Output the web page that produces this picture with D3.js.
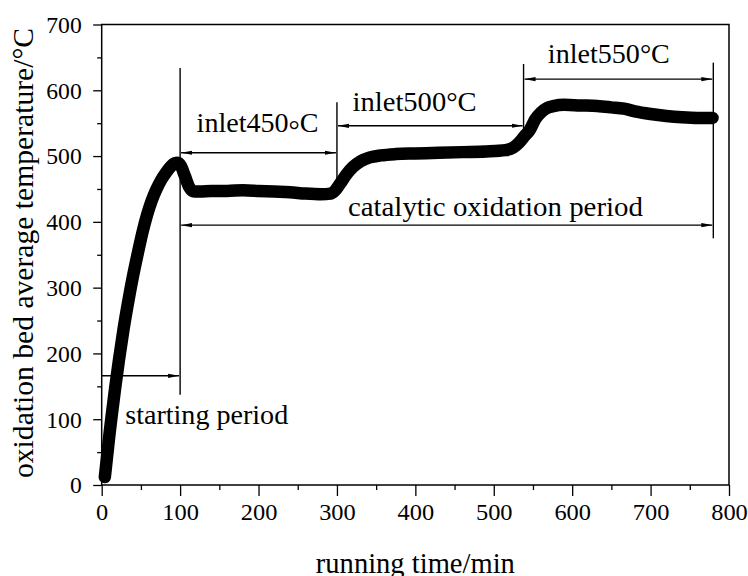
<!DOCTYPE html>
<html>
<head>
<meta charset="utf-8">
<script src="https://cdn.jsdelivr.net/npm/d3@7"></script>
<style>
  html, body { margin: 0; padding: 0; background: #fff; }
  svg { display: block; }
</style>
</head>
<body>
<svg id="chart" width="748" height="576"></svg>
<script>
// Running time (min) and oxidation bed average temperature (°C)
const timeMin = [4, 7, 10, 13, 17, 22, 28, 34, 40, 46, 52, 58, 64, 70, 76, 82, 88, 93, 97,
  101, 106, 112, 118, 125, 140, 160, 180, 200, 220, 240, 260, 280, 292, 298, 304, 312, 320,
  330, 342, 356, 375, 400, 430, 460, 490, 515, 525, 532, 539, 546, 553, 560, 568, 576, 590,
  610, 632, 650, 666, 680, 700, 720, 740, 760, 779];
const bedTemp = [12, 45, 78, 108, 146, 190, 238, 280, 318, 352, 384, 411, 433, 450, 464, 475,
  484, 489, 490, 485, 470, 452, 446, 446, 447, 447, 448, 447, 446, 445, 443, 442, 443, 448,
  458, 472, 483, 492, 498, 501, 503, 504, 505, 506, 507, 509, 513, 520, 530, 540, 556, 566,
  573, 576, 578, 577, 576, 574, 572, 568, 564, 561, 559, 558, 558];

// Axis ticks
const xTicks = [0, 100, 200, 300, 400, 500, 600, 700, 800];
const xMinorTicks = [50, 150, 250, 350, 450, 550, 650, 750];
const yTicks = [0, 100, 200, 300, 400, 500, 600, 700];
const yMinorTicks = [50, 150, 250, 350, 450, 550, 650];

// Period markers: vertical boundaries and spans (time in min, temp in °C)
const boundaryLines = [
  { t: 100, from: 137, to: 634 },
  { t: 300, from: 448, to: 582 },
  { t: 538, from: 520, to: 640 },
  { t: 780, from: 375, to: 642 }
];
const spanArrows = [
  { t0: 0, t1: 100, v: 166, startHead: false },
  { t0: 100, t1: 300, v: 505, startHead: true },
  { t0: 300, t1: 538, v: 546, startHead: true },
  { t0: 538, t1: 780, v: 617, startHead: true },
  { t0: 100, t1: 780, v: 395, startHead: true }
];
const periodLabels = [
  { text: "inlet450", unit: "ring", t: 121, v: 536, len: 122 },
  { text: "inlet500", unit: "deg", t: 320, v: 568, len: 124 },
  { text: "inlet550", unit: "deg", t: 569, v: 642, len: 122 },
  { text: "catalytic oxidation period", unit: null, t: 314, v: 409, len: 295 },
  { text: "starting period", unit: null, t: 30, v: 93, len: 163 }
];

const FONT = "'Liberation Serif', 'Times New Roman', serif";
const svg = d3.select("#chart");
const x = d3.scaleLinear().domain([0, 800]).range([101.7, 729]);
const y = d3.scaleLinear().domain([0, 700]).range([485, 24.5]);

// Arrowhead marker
const defs = svg.append("defs");
defs.append("marker")
  .attr("id", "head")
  .attr("markerUnits", "userSpaceOnUse")
  .attr("markerWidth", 11).attr("markerHeight", 7)
  .attr("refX", 11).attr("refY", 3.5)
  .attr("orient", "auto-start-reverse")
  .append("path")
  .attr("d", "M0,1.4 L11,3.5 L0,5.6 Z")
  .attr("fill", "#000");

// Bottom axis
const gx = svg.append("g").attr("transform", `translate(0,${y(0)})`)
  .call(d3.axisBottom(x).tickValues(xTicks).tickSize(11).tickPadding(0).tickFormat(d3.format("d")));
gx.attr("font-family", FONT);
gx.select(".domain").remove();
gx.selectAll(".tick line").attr("stroke", "#000").attr("stroke-width", 1.3);
gx.selectAll(".tick text")
  .attr("y", 35).attr("dy", 0)
  .attr("fill", "#000")
  .style("font-family", FONT)
  .style("font-size", "24px")
  .attr("textLength", d => String(d).length * 12.2)
  .attr("lengthAdjust", "spacingAndGlyphs");
svg.append("g").attr("transform", `translate(0,${y(0)})`)
  .call(d3.axisBottom(x).tickValues(xMinorTicks).tickSize(5).tickFormat(""))
  .call(g => g.select(".domain").remove())
  .selectAll(".tick line").attr("stroke", "#000").attr("stroke-width", 1.3);

// Left axis
const gy = svg.append("g").attr("transform", `translate(${x(0)},0)`)
  .call(d3.axisLeft(y).tickValues(yTicks).tickSize(8.5).tickPadding(11.5).tickFormat(d3.format("d")));
gy.attr("font-family", FONT);
gy.select(".domain").remove();
gy.selectAll(".tick line").attr("stroke", "#000").attr("stroke-width", 1.3);
gy.selectAll(".tick text")
  .attr("fill", "#000")
  .style("font-family", FONT)
  .style("font-size", "24px")
  .attr("dy", "0.33em")
  .attr("textLength", d => String(d).length * 11.8)
  .attr("lengthAdjust", "spacingAndGlyphs");
svg.append("g").attr("transform", `translate(${x(0)},0)`)
  .call(d3.axisLeft(y).tickValues(yMinorTicks).tickSize(4.5).tickFormat(""))
  .call(g => g.select(".domain").remove())
  .selectAll(".tick line").attr("stroke", "#000").attr("stroke-width", 1.3);

// Plot frame
svg.append("rect")
  .attr("x", x(0)).attr("y", y(700))
  .attr("width", x(800) - x(0)).attr("height", y(0) - y(700))
  .attr("fill", "none").attr("stroke", "#000").attr("stroke-width", 1.5);

// Period boundaries
svg.append("g").selectAll("line").data(boundaryLines).join("line")
  .attr("x1", d => x(d.t)).attr("x2", d => x(d.t))
  .attr("y1", d => y(d.from)).attr("y2", d => y(d.to))
  .attr("stroke", "#000").attr("stroke-width", 1.4);

// Period spans
svg.append("g").selectAll("line").data(spanArrows).join("line")
  .attr("x1", d => x(d.t0) + (d.startHead ? 1 : 0)).attr("x2", d => x(d.t1) - 1)
  .attr("y1", d => y(d.v)).attr("y2", d => y(d.v))
  .attr("stroke", "#000").attr("stroke-width", 1.4)
  .attr("marker-end", "url(#head)")
  .attr("marker-start", d => d.startHead ? "url(#head)" : null);

// Temperature curve
const line = d3.line()
  .x((d, i) => x(timeMin[i]))
  .y(d => y(d))
  .curve(d3.curveMonotoneX);
svg.append("path")
  .attr("d", line(bedTemp))
  .attr("fill", "none")
  .attr("stroke", "#000")
  .attr("stroke-width", 12.5)
  .attr("stroke-linejoin", "round")
  .attr("stroke-linecap", "round");

// Period labels
const lab = svg.append("g").selectAll("text").data(periodLabels).join("text")
  .attr("x", d => x(d.t)).attr("y", d => y(d.v))
  .attr("fill", "#000")
  .style("font-family", FONT)
  .style("font-size", "28px")
  .attr("textLength", d => d.len)
  .attr("lengthAdjust", "spacingAndGlyphs");
lab.each(function (d) {
  const t = d3.select(this);
  t.append("tspan").text(d.text);
  if (d.unit === "ring") {
    t.append("tspan").attr("dy", 7).text("°");
    t.append("tspan").attr("dy", -7).text("C");
  } else if (d.unit === "deg") {
    t.append("tspan").text("°C");
  }
});

// Axis titles
svg.append("text")
  .attr("x", (x(0) + x(800)) / 2).attr("y", 573)
  .attr("text-anchor", "middle")
  .attr("fill", "#000")
  .style("font-family", FONT)
  .style("font-size", "29px")
  .attr("textLength", 199).attr("lengthAdjust", "spacingAndGlyphs")
  .text("running time/min");
svg.append("text")
  .attr("transform", "translate(33,253) rotate(-90)")
  .attr("text-anchor", "middle")
  .attr("fill", "#000")
  .style("font-family", FONT)
  .style("font-size", "29px")
  .attr("textLength", 450).attr("lengthAdjust", "spacingAndGlyphs")
  .text("oxidation bed average temperature/°C");
</script>
</body>
</html>
